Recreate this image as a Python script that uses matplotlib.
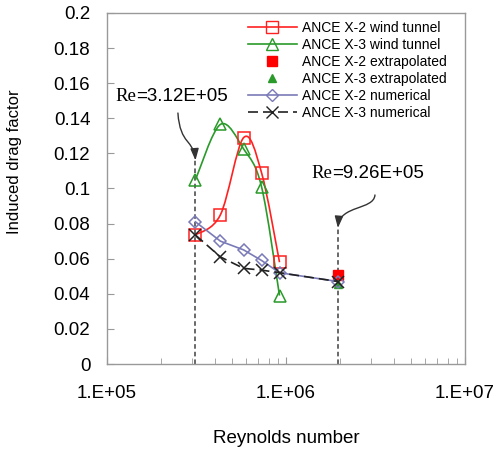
import numpy as np
import matplotlib
matplotlib.use("Agg")
import matplotlib.pyplot as plt
from matplotlib.path import Path
from matplotlib.patches import PathPatch, FancyArrowPatch
from matplotlib.lines import Line2D

plt.rcParams['font.family'] = ['Liberation Sans', 'DejaVu Sans']

# Wind tunnel data
re_tunnel = [3.12e5, 4.3e5, 5.8e5, 7.3e5, 9.2e5]
x2_tunnel = [0.0735, 0.085, 0.129, 0.109, 0.058]
x3_tunnel = [0.105, 0.1365, 0.1225, 0.101, 0.039]

# Extrapolated points
re_extra = [1.95e6]
x2_extra = [0.0505]
x3_extra = [0.0455]

# Numerical results
re_num = [3.12e5, 4.3e5, 5.8e5, 7.3e5, 9.2e5, 1.95e6]
x2_num = [0.081, 0.070, 0.065, 0.059, 0.052, 0.047]
x3_num = [0.0735, 0.061, 0.0545, 0.0535, 0.052, 0.047]

# Marked Reynolds numbers
re_marks = [3.12e5, 1.95e6]
re_texts = ["=3.12E+05", "=9.26E+05"]

yticks = np.arange(0, 0.2001, 0.02)
xticks = [1e5, 1e6, 1e7]
xtick_labels = ["1.E+05", "1.E+06", "1.E+07"]

red = "#ff2020"
green = "#2a9a2a"
slate = "#7a7ab8"
gray = "#999999"


def smooth_path(xs, ys):
    # Catmull-Rom style bezier through the points, in log-x space
    pts = np.column_stack([np.log10(xs), ys])
    n = len(pts)
    verts = [pts[0]]
    codes = [Path.MOVETO]
    for i in range(n - 1):
        p0 = pts[i - 1] if i > 0 else pts[i]
        p1 = pts[i]
        p2 = pts[i + 1]
        p3 = pts[i + 2] if i + 2 < n else pts[i + 1]
        verts += [p1 + (p2 - p0) / 6, p2 - (p3 - p1) / 6, p2]
        codes += [Path.CURVE4] * 3
    verts = np.array(verts)
    verts[:, 0] = 10 ** verts[:, 0]
    return Path(verts, codes)


fig = plt.figure(figsize=(4.97, 4.51), dpi=100)
ax = fig.add_axes([0.2153, 0.1929, 0.7203, 0.7783])
ax.set_xscale("log")
ax.set_xlim(1e5, 1e7)
ax.set_ylim(0, 0.2)

# dashed marker lines
ax.plot([re_marks[0]] * 2, [0, 0.116], ls=(0, (3, 2)), color="#404040", lw=1.1, zorder=1)
ax.plot([re_marks[1]] * 2, [0, 0.0775], ls=(0, (3, 2)), color="#404040", lw=1.1, zorder=1)

# smoothed wind tunnel curves
ax.add_patch(PathPatch(smooth_path(re_tunnel, x2_tunnel), fc="none", ec=red, lw=1.2, zorder=2))
ax.add_patch(PathPatch(smooth_path(re_tunnel, x3_tunnel), fc="none", ec=green, lw=1.2, zorder=2))
ax.plot(re_tunnel, x2_tunnel, ls="none", marker="s", ms=8.5, mfc="none", mec=red, mew=1.1, zorder=3)
ax.plot(re_tunnel, x3_tunnel, ls="none", marker="^", ms=9, mfc="none", mec=green, mew=1.1, zorder=3)

ax.plot(re_num, x2_num, ls="-", color=slate, lw=1.2, marker="D", ms=6, mfc="none", mec=slate, mew=1.1, zorder=3)
ax.plot(re_num, x3_num, ls=(0, (6, 3)), color="#222222", lw=1.2, marker="x", ms=8, mew=1.1, zorder=3)

ax.plot(re_extra, x2_extra, ls="none", marker="s", ms=7, color="#ff0000", zorder=2.5)
ax.plot(re_extra, x3_extra, ls="none", marker="^", ms=6, color=green, zorder=2.5)

# annotation texts
ax.text(1.45e5, 0.1525, "Re", family="Liberation Serif", fontsize=13.5, ha="right", va="center")
ax.text(1.45e5, 0.1525, re_texts[0], fontsize=13.5, ha="left", va="center")
ax.text(1.81e6, 0.1085, "Re", family="Liberation Serif", fontsize=13.5, ha="right", va="center")
ax.text(1.81e6, 0.1085, re_texts[1], fontsize=13.5, ha="left", va="center")

# curved arrows
arr1 = Path([(2.49e5, 0.143), (2.56e5, 0.1248), (3.06e5, 0.1276), (re_marks[0], 0.116)],
            [Path.MOVETO, Path.CURVE4, Path.CURVE4, Path.CURVE4])
arr2 = Path([(3.14e6, 0.0963), (3.10e6, 0.0877), (2.0e6, 0.0906), (re_marks[1], 0.0775)],
            [Path.MOVETO, Path.CURVE4, Path.CURVE4, Path.CURVE4])
for p in (arr1, arr2):
    ax.add_patch(FancyArrowPatch(path=p, arrowstyle="-|>,head_length=0.7,head_width=0.25",
                                 mutation_scale=10, color="#333333", lw=1.0, zorder=4))

# axes styling
for s in ax.spines.values():
    s.set_color(gray)
    s.set_linewidth(1.0)
ax.set_yticks(yticks)
ax.set_yticklabels([f"{v:g}" for v in yticks])
ax.set_xticks(xticks)
ax.set_xticklabels(xtick_labels)
ax.tick_params(axis="both", which="both", direction="in", color=gray, labelsize=13.5)
ax.tick_params(axis="y", which="major", length=5, pad=12)
ax.tick_params(axis="x", which="major", length=5, pad=15)
ax.tick_params(axis="x", which="minor", length=4)
ax.xaxis.set_minor_formatter(plt.NullFormatter())

ax.set_xlabel("Reynolds number", fontsize=13.5, labelpad=20)
ax.set_ylabel("Induced drag factor", fontsize=12)
ax.yaxis.set_label_coords(-0.237, 0.575)

handles = [
    Line2D([], [], color=red, lw=1.2, marker="s", ms=8.5, mfc="none", mec=red),
    Line2D([], [], color=green, lw=1.2, marker="^", ms=9, mfc="none", mec=green),
    Line2D([], [], ls="none", marker="s", ms=7, color="#ff0000"),
    Line2D([], [], ls="none", marker="^", ms=6, color=green),
    Line2D([], [], color=slate, lw=1.2, marker="D", ms=6, mfc="none", mec=slate),
    Line2D([], [], color="#222222", lw=1.2, ls=(0, (6, 3)), marker="x", ms=8),
]
labels = ["ANCE X-2 wind tunnel", "ANCE X-3 wind tunnel", "ANCE X-2 extrapolated",
          "ANCE X-3 extrapolated", "ANCE X-2 numerical", "ANCE X-3 numerical"]
ax.legend(handles, labels, loc="upper left", bbox_to_anchor=(0.394, 0.978), frameon=False,
          fontsize=10, handlelength=3.5, handletextpad=0.4, labelspacing=0.22,
          borderpad=0, borderaxespad=0)

fig.savefig("out.png", dpi=100)
